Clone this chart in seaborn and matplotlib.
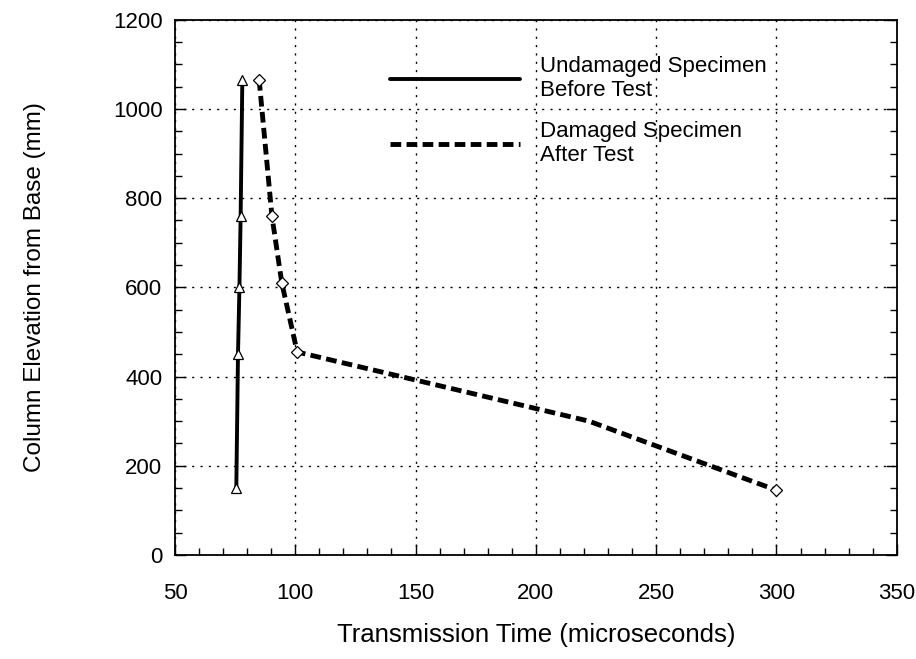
import numpy as np
import pandas as pd
import seaborn as sns
import matplotlib.pyplot as plt
from matplotlib.lines import Line2D
from matplotlib.ticker import MultipleLocator

# Ultrasonic pulse transmission time along the column height
undamaged_time = [75.5, 76.2, 76.8, 77.3, 78.0]
undamaged_elev = [150, 450, 600, 760, 1065]

damaged_time = [85, 90.3, 94.4, 100.8, 222, 300]
damaged_elev = [1065, 760, 610, 455, 300, 145]

undamaged_label = "Undamaged Specimen\nBefore Test"
damaged_label = "Damaged Specimen\nAfter Test"

sns.set_theme(style="ticks")
plt.rcParams["font.family"] = ["Liberation Sans", "DejaVu Sans"]
plt.rcParams["text.color"] = "black"
plt.rcParams["axes.labelcolor"] = "black"

fig = plt.figure(figsize=(9.16, 6.59), dpi=100)
ax = fig.add_axes([0.191, 0.158, 0.788, 0.812])

df_u = pd.DataFrame({"t": undamaged_time, "h": undamaged_elev})
df_d = pd.DataFrame({"t": damaged_time, "h": damaged_elev})

solid_lw = 2.8
dash_lw = 3.5
dash_pattern = (2.2, 1.1)

sns.lineplot(data=df_u, x="t", y="h", sort=False, ax=ax, color="black",
             linewidth=solid_lw, marker="^", markersize=6.5,
             markerfacecolor="white", markeredgecolor="black",
             markeredgewidth=0.9, legend=False)
sns.lineplot(data=df_d, x="t", y="h", sort=False, ax=ax, color="black",
             linewidth=dash_lw, marker="D", markersize=6,
             markerfacecolor="white", markeredgecolor="black",
             markeredgewidth=0.9, markevery=[0, 1, 2, 3, 5], legend=False)
ax.lines[1].set_dashes(dash_pattern)

ax.set_xlim(50, 350)
ax.set_ylim(0, 1200)
ax.xaxis.set_major_locator(MultipleLocator(50))
ax.xaxis.set_minor_locator(MultipleLocator(10))
ax.yaxis.set_major_locator(MultipleLocator(200))
ax.yaxis.set_minor_locator(MultipleLocator(50))
ax.tick_params(axis="both", which="both", direction="in", colors="black",
               labelcolor="black", labelsize=16, width=1.0)
ax.tick_params(axis="both", which="major", length=8)
ax.tick_params(axis="both", which="minor", length=5)
ax.tick_params(axis="x", which="major", pad=20)
ax.tick_params(axis="y", which="major", pad=9)
ax.tick_params(axis="y", which="both", right=True, left=True)
ax.tick_params(axis="x", which="both", top=False, bottom=True)

ax.grid(True, which="major", color="black", linewidth=1.0,
        linestyle=(0, (1.5, 4.5)))
for s in ax.spines.values():
    s.set_color("black")
    s.set_linewidth(1.3)

ax.set_xlabel("Transmission Time (microseconds)", fontsize=18.5, labelpad=14)
ax.set_ylabel("Column Elevation from Base (mm)", fontsize=17.5, labelpad=48)

leg_handles = [Line2D([], [], color="black", linewidth=solid_lw),
               Line2D([], [], color="black", linewidth=dash_lw,
                      dashes=dash_pattern)]
ax.legend(leg_handles, [undamaged_label, damaged_label],
          loc="upper left", bbox_to_anchor=(0.27, 0.97), frameon=False,
          fontsize=16, handlelength=5.85, handletextpad=0.9,
          labelspacing=0.9)

fig.savefig("out.png", dpi=100)
